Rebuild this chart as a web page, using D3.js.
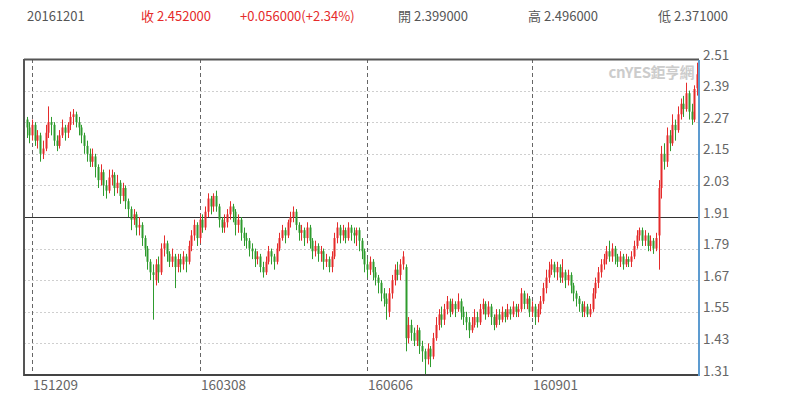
<!DOCTYPE html>
<html><head><meta charset="utf-8">
<script src="https://cdn.jsdelivr.net/npm/d3@7/dist/d3.min.js"></script>
<style>body{margin:0;background:#fff}svg{display:block}text{font-family:"Noto Sans CJK TC","Open Sans",sans-serif}</style>
</head><body><svg id="c" width="800" height="406"></svg>
<script>
const opens = [2.28,2.25,2.22,2.26,2.20,2.22,2.15,2.17,2.23,2.27,2.26,2.20,2.18,2.22,2.25,2.23,2.26,2.29,2.30,2.27,
2.25,2.22,2.18,2.15,2.12,2.14,2.10,2.05,2.08,2.03,2.01,2.06,2.07,2.02,2.04,1.99,2.02,1.97,1.94,1.90,
1.92,1.87,1.88,1.83,1.79,1.74,1.70,1.67,1.73,1.70,1.79,1.81,1.77,1.74,1.76,1.72,1.75,1.73,1.76,1.74,
1.80,1.84,1.88,1.83,1.90,1.87,1.93,1.98,1.95,1.99,1.95,1.90,1.87,1.89,1.92,1.95,1.93,1.88,1.90,1.85,
1.83,1.82,1.79,1.78,1.75,1.76,1.72,1.70,1.74,1.78,1.76,1.74,1.79,1.83,1.86,1.84,1.89,1.91,1.93,1.88,
1.85,1.86,1.83,1.87,1.82,1.78,1.80,1.77,1.78,1.74,1.75,1.72,1.76,1.83,1.87,1.84,1.86,1.83,1.87,1.85,
1.84,1.86,1.82,1.78,1.73,1.71,1.74,1.70,1.68,1.66,1.62,1.60,1.55,1.62,1.67,1.71,1.69,1.73,1.72,1.45,
1.50,1.47,1.44,1.48,1.42,1.40,1.37,1.41,1.38,1.45,1.50,1.54,1.52,1.56,1.59,1.55,1.58,1.56,1.59,1.55,
1.53,1.51,1.48,1.50,1.53,1.51,1.56,1.58,1.54,1.57,1.53,1.50,1.54,1.52,1.55,1.53,1.56,1.54,1.57,1.55,
1.56,1.62,1.58,1.60,1.55,1.57,1.53,1.56,1.59,1.64,1.68,1.71,1.73,1.70,1.72,1.68,1.70,1.67,1.69,1.65,
1.62,1.60,1.58,1.55,1.57,1.54,1.56,1.62,1.66,1.70,1.73,1.75,1.78,1.76,1.79,1.76,1.74,1.76,1.73,1.75,
1.74,1.76,1.80,1.84,1.86,1.82,1.84,1.80,1.82,1.79,1.84,2.02,2.15,2.12,2.22,2.19,2.26,2.24,2.30,2.34,
2.32,2.38,2.31,2.28,2.399];
const closes = [2.25,2.22,2.26,2.20,2.22,2.15,2.17,2.23,2.27,2.26,2.20,2.18,2.22,2.25,2.23,2.26,2.29,2.30,2.27,2.25,
2.22,2.18,2.15,2.12,2.14,2.10,2.05,2.08,2.03,2.01,2.06,2.07,2.02,2.04,1.99,2.02,1.97,1.94,1.90,1.92,
1.87,1.88,1.83,1.79,1.74,1.70,1.69,1.73,1.70,1.79,1.81,1.77,1.74,1.76,1.72,1.75,1.73,1.76,1.74,1.80,
1.84,1.88,1.83,1.90,1.87,1.93,1.98,1.95,1.99,1.95,1.90,1.87,1.89,1.92,1.95,1.93,1.88,1.90,1.85,1.83,
1.82,1.79,1.78,1.75,1.76,1.72,1.70,1.74,1.78,1.76,1.74,1.79,1.83,1.86,1.84,1.89,1.91,1.93,1.88,1.85,
1.86,1.83,1.87,1.82,1.78,1.80,1.77,1.78,1.74,1.75,1.72,1.76,1.83,1.87,1.84,1.86,1.83,1.87,1.85,1.84,
1.86,1.82,1.78,1.73,1.71,1.74,1.70,1.68,1.66,1.62,1.60,1.58,1.62,1.67,1.71,1.69,1.73,1.76,1.45,1.50,
1.47,1.44,1.48,1.42,1.40,1.37,1.41,1.38,1.45,1.50,1.54,1.52,1.56,1.59,1.55,1.58,1.56,1.59,1.55,1.53,
1.51,1.48,1.50,1.53,1.51,1.56,1.58,1.54,1.57,1.53,1.50,1.54,1.52,1.55,1.53,1.56,1.54,1.57,1.55,1.56,
1.62,1.58,1.60,1.55,1.57,1.53,1.56,1.59,1.64,1.68,1.71,1.73,1.70,1.72,1.68,1.70,1.67,1.69,1.65,1.62,
1.60,1.58,1.55,1.57,1.54,1.56,1.62,1.66,1.70,1.73,1.75,1.78,1.76,1.79,1.76,1.74,1.76,1.73,1.75,1.74,
1.76,1.80,1.84,1.86,1.82,1.84,1.80,1.82,1.79,1.83,2.02,2.15,2.12,2.22,2.19,2.26,2.24,2.30,2.34,2.32,
2.38,2.31,2.28,2.396,2.452];
const highs = [2.29,2.27,2.28,2.27,2.24,2.23,2.20,2.26,2.33,2.29,2.27,2.22,2.24,2.28,2.26,2.27,2.31,2.32,2.31,2.29,
2.26,2.23,2.20,2.17,2.17,2.15,2.11,2.11,2.09,2.05,2.09,2.09,2.08,2.07,2.05,2.04,2.03,1.98,1.95,1.94,
1.93,1.91,1.89,1.84,1.80,1.75,1.73,1.75,1.76,1.81,1.84,1.82,1.78,1.79,1.77,1.77,1.77,1.78,1.77,1.82,
1.86,1.90,1.89,1.92,1.92,1.95,2.00,1.99,2.00,2.01,1.96,1.91,1.92,1.94,1.97,1.96,1.94,1.92,1.91,1.87,
1.85,1.83,1.81,1.79,1.78,1.77,1.74,1.76,1.80,1.79,1.77,1.81,1.85,1.88,1.87,1.90,1.93,1.95,1.94,1.89,
1.88,1.87,1.89,1.88,1.83,1.82,1.81,1.80,1.79,1.77,1.76,1.78,1.85,1.89,1.88,1.88,1.87,1.89,1.88,1.87,
1.87,1.87,1.83,1.79,1.75,1.76,1.75,1.72,1.69,1.67,1.64,1.62,1.64,1.69,1.73,1.74,1.75,1.78,1.73,1.53,
1.52,1.49,1.50,1.49,1.44,1.41,1.43,1.42,1.47,1.53,1.56,1.57,1.58,1.61,1.60,1.60,1.59,1.62,1.60,1.57,
1.55,1.53,1.53,1.56,1.55,1.58,1.60,1.59,1.59,1.58,1.54,1.56,1.56,1.57,1.56,1.58,1.57,1.59,1.58,1.58,
1.64,1.63,1.62,1.61,1.59,1.58,1.58,1.61,1.66,1.71,1.74,1.75,1.74,1.74,1.73,1.75,1.71,1.71,1.70,1.66,
1.63,1.61,1.59,1.59,1.58,1.58,1.64,1.68,1.72,1.75,1.77,1.80,1.82,1.81,1.80,1.77,1.78,1.77,1.77,1.76,
1.78,1.82,1.86,1.87,1.87,1.86,1.85,1.84,1.83,1.85,2.05,2.18,2.19,2.25,2.24,2.30,2.28,2.33,2.36,2.37,
2.42,2.39,2.34,2.41,2.496];
const lows = [2.21,2.19,2.20,2.18,2.17,2.12,2.13,2.16,2.21,2.22,2.18,2.16,2.17,2.21,2.20,2.21,2.24,2.26,2.25,2.22,
2.19,2.15,2.12,2.10,2.10,2.06,2.02,2.03,1.99,1.98,2.00,2.03,1.99,2.00,1.96,1.97,1.94,1.91,1.86,1.88,
1.84,1.84,1.80,1.76,1.71,1.67,1.52,1.65,1.66,1.69,1.76,1.74,1.72,1.72,1.64,1.70,1.70,1.71,1.70,1.73,
1.78,1.82,1.80,1.81,1.85,1.86,1.91,1.92,1.93,1.93,1.87,1.85,1.85,1.87,1.90,1.89,1.84,1.85,1.82,1.80,
1.79,1.76,1.75,1.72,1.73,1.70,1.68,1.69,1.73,1.73,1.71,1.73,1.78,1.82,1.81,1.83,1.87,1.89,1.86,1.82,
1.82,1.80,1.81,1.79,1.75,1.76,1.74,1.74,1.71,1.72,1.70,1.70,1.75,1.81,1.81,1.82,1.81,1.82,1.82,1.81,
1.80,1.78,1.75,1.70,1.68,1.69,1.67,1.65,1.62,1.59,1.57,1.52,1.53,1.60,1.65,1.67,1.67,1.71,1.40,1.43,
1.44,1.42,1.42,1.39,1.36,1.31,1.35,1.34,1.37,1.44,1.48,1.49,1.50,1.54,1.53,1.54,1.53,1.55,1.52,1.50,
1.48,1.45,1.47,1.49,1.49,1.50,1.54,1.52,1.53,1.50,1.48,1.49,1.50,1.51,1.51,1.52,1.52,1.53,1.53,1.53,
1.55,1.56,1.56,1.53,1.53,1.50,1.51,1.54,1.58,1.62,1.66,1.69,1.68,1.67,1.66,1.66,1.64,1.65,1.62,1.59,
1.57,1.55,1.53,1.53,1.53,1.53,1.55,1.60,1.64,1.68,1.71,1.73,1.74,1.74,1.73,1.72,1.72,1.71,1.72,1.72,
1.72,1.75,1.79,1.82,1.80,1.80,1.78,1.78,1.77,1.78,1.71,1.98,2.09,2.10,2.16,2.18,2.20,2.23,2.28,2.29,
2.31,2.28,2.26,2.27,2.371];
const yTicks = [2.51,2.39,2.27,2.15,2.03,1.91,1.79,1.67,1.55,1.43,1.31];
const refLine = 1.91;
const xTickIndex = [2,63,124,184];
const xTickLabels = ["151209","160308","160606","160901"];
const header = {date:"20161201", close:"收 2.452000", change:"+0.056000(+2.34%)", open:"開 2.399000", high:"高 2.496000", low:"低 2.371000"};

const svg = d3.select("#c");
const L=24, R=699, T=59, B=375;
const x = d3.scaleLinear().domain([0, closes.length-1]).range([26.5, 697]);
const y = d3.scaleLinear().domain([1.31, 2.51]).range([B, T]);
const RED="#e52b2b", GREEN="#2e9b2e";

// header
const hs = [[header.date,27,"#555"],[header.close,141,RED],[header.change,240,RED],[header.open,398,"#555"],[header.high,528,"#555"],[header.low,658,"#555"]];
svg.selectAll("text.h").data(hs).enter().append("text").attr("class","h")
  .attr("x",d=>d[1]).attr("y",21).attr("fill",d=>d[2]).attr("font-size",13).text(d=>d[0]);

// gridlines
svg.selectAll("line.g").data(yTicks.filter(v=>v!==refLine && v!==2.51 && v!==1.31)).enter().append("line")
  .attr("x1",L).attr("x2",R).attr("y1",d=>Math.round(y(d))+0.5).attr("y2",d=>Math.round(y(d))+0.5)
  .attr("stroke","#cfcfcf").attr("stroke-dasharray","2,2").attr("stroke-width",1);
svg.selectAll("line.v").data(xTickIndex).enter().append("line")
  .attr("x1",d=>Math.round(x(d))+0.5).attr("x2",d=>Math.round(x(d))+0.5).attr("y1",T).attr("y2",B)
  .attr("stroke","#666").attr("stroke-dasharray","4,3").attr("stroke-width",1);
svg.append("line").attr("x1",L).attr("x2",R).attr("y1",Math.round(y(refLine))+0.5).attr("y2",Math.round(y(refLine))+0.5)
  .attr("stroke","#333").attr("stroke-width",1);

// watermark
svg.append("text").attr("x",694).attr("y",78).attr("text-anchor","end").attr("fill","#cccccc")
  .attr("font-size",15).attr("font-weight","bold").attr("letter-spacing","-0.5").text("cnYES鉅亨網");

// candles
const idx = d3.range(closes.length);
const g = svg.append("g");
g.selectAll("line.w").data(idx).enter().append("line")
  .attr("x1",i=>Math.round(x(i))+0.5).attr("x2",i=>Math.round(x(i))+0.5)
  .attr("y1",i=>y(highs[i])).attr("y2",i=>y(lows[i]))
  .attr("stroke",i=>closes[i]>=opens[i]?RED:GREEN).attr("stroke-width",1);
g.selectAll("rect.b").data(idx).enter().append("rect")
  .attr("x",i=>Math.round(x(i))-0.5).attr("width",2)
  .attr("y",i=>y(Math.max(opens[i],closes[i])))
  .attr("height",i=>Math.max(1,Math.abs(y(opens[i])-y(closes[i]))))
  .attr("fill",i=>closes[i]>=opens[i]?RED:GREEN);

// frame
svg.append("line").attr("x1",L).attr("x2",R).attr("y1",T+0.5).attr("y2",T+0.5).attr("stroke","#555").attr("stroke-width",2);
svg.append("line").attr("x1",L).attr("x2",L).attr("y1",T).attr("y2",B+1).attr("stroke","#555").attr("stroke-width",2);
svg.append("line").attr("x1",L).attr("x2",R).attr("y1",B).attr("y2",B).attr("stroke","#444").attr("stroke-width",2);
svg.append("line").attr("x1",R).attr("x2",R).attr("y1",T+1).attr("y2",B+1).attr("stroke","#5d9bd0").attr("stroke-width",2);

// y labels
const yAxis = d3.axisRight(y).tickValues(yTicks).tickSize(0).tickPadding(0).tickFormat(d3.format(".2f"));
const ya = svg.append("g").attr("transform",`translate(${R+4},0)`).call(yAxis);
ya.select(".domain").remove();
ya.selectAll("text").attr("dy",0).attr("font-size",13.5).attr("fill","#666").attr("font-family",'"Noto Sans CJK TC","Open Sans",sans-serif');

// x labels
svg.selectAll("text.x").data(xTickIndex).enter().append("text")
  .attr("x",i=>Math.round(x(i))+1).attr("y",390).attr("font-size",13.5).attr("fill","#666")
  .text((d,k)=>xTickLabels[k]);
</script></body></html>
